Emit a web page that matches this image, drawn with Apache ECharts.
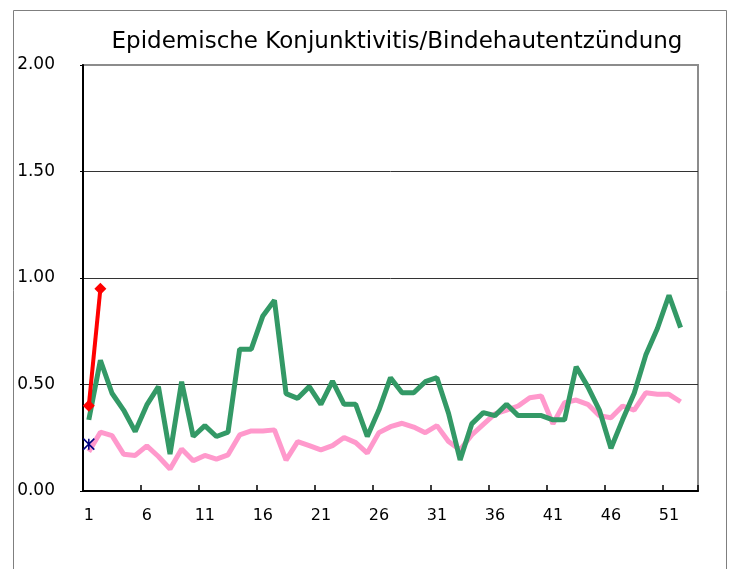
<!DOCTYPE html>
<html>
<head>
<meta charset="utf-8">
<script src="https://cdn.jsdelivr.net/npm/echarts@6/dist/echarts.min.js"></script>
<style>
html,body{margin:0;padding:0;background:#fff;}
#c{width:733px;height:569px;}
</style>
</head>
<body>
<div id="c"></div>
<script>
const titleText = 'Epidemische Konjunktivitis/Bindehautentzündung';
const weeks = ['1','2','3','4','5','6','7','8','9','10','11','12','13','14','15','16','17','18','19','20','21','22','23','24','25','26','27','28','29','30','31','32','33','34','35','36','37','38','39','40','41','42','43','44','45','46','47','48','49','50','51','52','53'];
const greenValues = [0.334,0.614,0.459,0.380,0.279,0.404,0.490,0.173,0.513,0.256,0.307,0.256,0.276,0.666,0.666,0.822,0.895,0.457,0.435,0.490,0.407,0.516,0.407,0.407,0.256,0.380,0.532,0.461,0.461,0.513,0.532,0.365,0.146,0.315,0.368,0.354,0.407,0.354,0.354,0.354,0.334,0.334,0.583,0.490,0.380,0.201,0.334,0.459,0.638,0.763,0.919,0.767];
const pinkValues = [0.185,0.276,0.260,0.173,0.167,0.212,0.162,0.103,0.197,0.142,0.167,0.150,0.170,0.263,0.282,0.282,0.287,0.145,0.232,0.213,0.193,0.213,0.251,0.227,0.178,0.274,0.302,0.318,0.300,0.274,0.307,0.232,0.193,0.263,0.313,0.362,0.380,0.399,0.438,0.446,0.315,0.415,0.427,0.407,0.354,0.344,0.399,0.380,0.461,0.454,0.454,0.419];
const redValues = [0.40,0.95];
const blueValues = [0.22];
const yTicks = [0, 0.5, 1.0, 1.5, 2.0];

const chart = echarts.init(document.getElementById('c'), null, {renderer:'canvas'});
const labelFont = 'DejaVu Sans';
chart.setOption({
  animation: false,
  backgroundColor: '#ffffff',
  graphic: [{
    type: 'rect', left: 11, top: 8, z: -10,
    shape: {width: 713, height: 620},
    style: {fill: 'none', stroke: '#7f7f7f', lineWidth: 1}
  }],
  title: {
    text: titleText,
    left: 392, top: 26, textAlign: 'center',
    textStyle: {fontFamily: labelFont, fontSize: 23, fontWeight: 'normal', color: '#000'}
  },
  grid: {
    left: 83, top: 65, right: 35, bottom: 78,
    show: true, borderColor: '#8c8c8c', borderWidth: 2, backgroundColor: 'transparent'
  },
  xAxis: {
    type: 'category',
    data: weeks,
    boundaryGap: true,
    axisLine: {lineStyle: {color: '#000', width: 2}},
    axisTick: {show: true, inside: true, interval: 4, length: 6, lineStyle: {color: '#000', width: 1.5}},
    axisLabel: {interval: 4, margin: 17, fontFamily: labelFont, fontSize: 16, color: '#000'},
    splitLine: {show: false}
  },
  yAxis: {
    type: 'value',
    min: yTicks[0], max: yTicks[yTicks.length-1], interval: yTicks[1]-yTicks[0],
    axisLine: {show: true, lineStyle: {color: '#000', width: 2}},
    axisTick: {show: true, length: 3, lineStyle: {color: '#000'}},
    axisLabel: {margin: 28, fontFamily: labelFont, fontSize: 17, color: '#000',
      formatter: v => v.toFixed(2)},
    splitLine: {show: true, showMinLine: false, showMaxLine: false, lineStyle: {color: '#333', width: 1}}
  },
  series: [
    {type: 'line', data: pinkValues, showSymbol: false, symbol: 'none',
      lineStyle: {color: '#ff99cc', width: 5}, z: 2},
    {type: 'line', data: greenValues, showSymbol: false, symbol: 'none',
      lineStyle: {color: '#339966', width: 5}, z: 3},
    {type: 'line', data: redValues, symbol: 'diamond', symbolSize: 12, showAllSymbol: true,
      itemStyle: {color: '#ff0000'}, lineStyle: {color: '#ff0000', width: 4}, z: 4},
    {type: 'line', data: blueValues, symbol: 'path://M0,0L10,10M10,0L0,10M5,0L5,10', symbolSize: 11, showAllSymbol: true,
      itemStyle: {color: 'transparent', borderColor: '#000080', borderWidth: 1.5}, z: 5}
  ]
});
</script>
</body>
</html>
